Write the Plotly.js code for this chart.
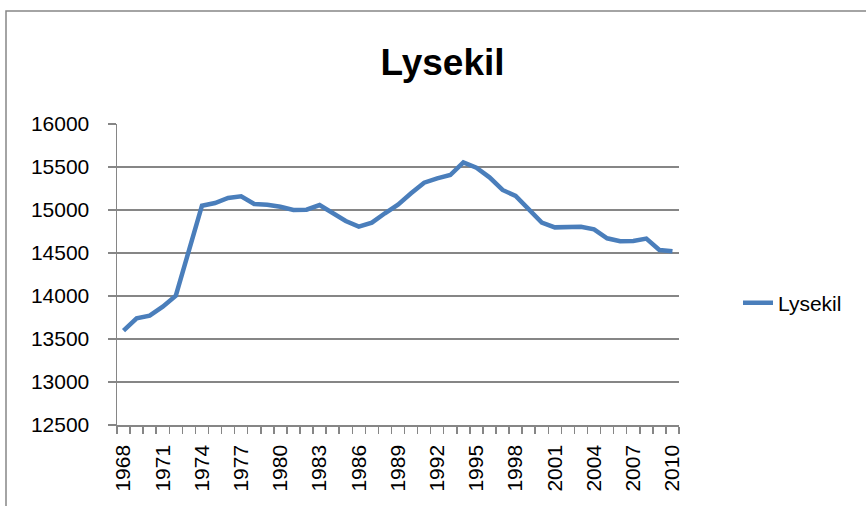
<!DOCTYPE html>
<html>
<head>
<meta charset="utf-8">
<script src="https://cdn.plot.ly/plotly-3.0.1.min.js"></script>
<style>
  html, body { margin: 0; padding: 0; background: #fff; }
  #chart { width: 866px; height: 506px; }
</style>
</head>
<body>
<div id="chart"></div>
<script>
var years = [1968,1969,1970,1971,1972,1973,1974,1975,1976,1977,1978,1979,1980,1981,1982,1983,1984,1985,1986,1987,1988,1989,1990,1991,1992,1993,1994,1995,1996,1997,1998,1999,2000,2001,2002,2003,2004,2005,2006,2007,2008,2009,2010];
var population = [13597,13741,13771,13876,14004,14535,15050,15081,15140,15159,15070,15062,15038,15000,15004,15058,14969,14872,14806,14853,14962,15062,15194,15318,15368,15407,15554,15492,15380,15233,15163,15000,14853,14798,14806,14806,14775,14671,14636,14640,14667,14535,14520];
var seriesName = "Lysekil";
var chartTitle = "Lysekil";
var labelYears = [1968,1971,1974,1977,1980,1983,1986,1989,1992,1995,1998,2001,2004,2007,2010];
var yTicks = [12500,13000,13500,14000,14500,15000,15500,16000];

var font = "Liberation Sans, Arial, sans-serif";
var grey = "#868686";

var trace = {
  x: years,
  y: population,
  name: seriesName,
  type: "scatter",
  mode: "lines",
  line: { color: "#4a7ebb", width: 4.5 },
  showlegend: true
};

var layout = {
  width: 866,
  height: 506,
  margin: { l: 117, r: 187, t: 124, b: 81 },
  paper_bgcolor: "#fff",
  plot_bgcolor: "#fff",
  font: { family: font, size: 21, color: "#000" },
  title: {
    text: "<b>" + chartTitle + "</b>",
    font: { family: font, size: 37, color: "#000" },
    x: 0.511, xref: "container", xanchor: "center",
    y: 1 - 62 / 506, yref: "container", yanchor: "middle"
  },
  xaxis: {
    type: "linear",
    range: [years[0] - 0.5, years[years.length - 1] + 0.5],
    tickvals: labelYears,
    ticktext: labelYears.map(String),
    tickangle: -90,
    ticks: "",
    ticklabelstandoff: 10,
    tickfont: { family: font, size: 21, color: "#000" },
    showgrid: false,
    zeroline: false,
    showline: true,
    linecolor: grey,
    linewidth: 1.5,
    minor: {
      tick0: years[0] - 0.5,
      dtick: 1,
      ticks: "outside",
      ticklen: 7,
      tickcolor: grey,
      tickwidth: 1.5,
      showgrid: false
    }
  },
  yaxis: {
    range: [yTicks[0], yTicks[yTicks.length - 1]],
    tickvals: yTicks,
    tickformat: "d",
    ticks: "outside",
    ticklen: 8,
    tickcolor: grey,
    tickwidth: 1.5,
    ticklabelstandoff: 14,
    tickfont: { family: font, size: 21, color: "#000" },
    showgrid: true,
    gridcolor: grey,
    gridwidth: 1.5,
    zeroline: false,
    showline: true,
    linecolor: grey,
    linewidth: 1.5
  },
  legend: {
    x: (738 - 117) / 562,
    xanchor: "left",
    y: (425 - 303) / 301,
    yanchor: "middle",
    font: { family: font, size: 21, color: "#000" },
    bgcolor: "rgba(0,0,0,0)"
  },
  shapes: [{
    type: "rect",
    xref: "paper", yref: "paper",
    x0: (6 - 117) / 562, x1: 2,
    y0: -1, y1: (425 - 11) / 301,
    line: { color: grey, width: 1.5 },
    fillcolor: "rgba(0,0,0,0)",
    layer: "below"
  }]
};

Plotly.newPlot("chart", [trace], layout, { displayModeBar: false, staticPlot: true });
</script>
</body>
</html>
